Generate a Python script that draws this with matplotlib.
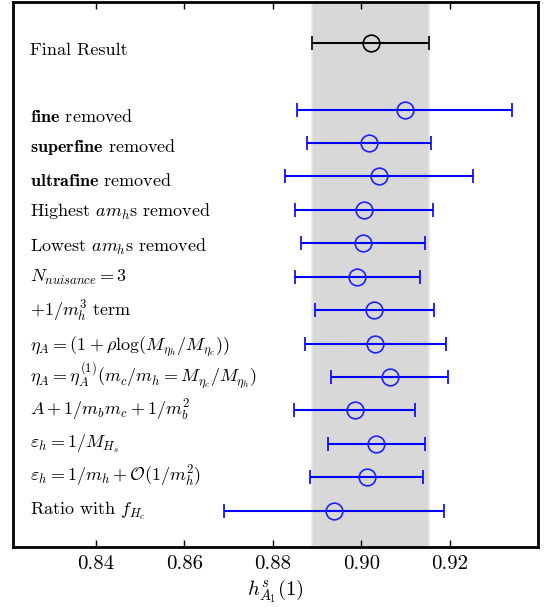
import matplotlib
matplotlib.use("Agg")
import matplotlib.pyplot as plt
import numpy as np

plt.rcParams["font.family"] = "serif"
plt.rcParams["font.serif"] = ["cmr10"]
plt.rcParams["mathtext.fontset"] = "cm"
plt.rcParams["axes.formatter.use_mathtext"] = True

# Final combined result
final_label = "Final Result"
final_value = 0.9021
final_error = 0.0132

# Stability tests of the fit
test_labels = [
    r"$\mathbf{fine}$ removed",
    r"$\mathbf{superfine}$ removed",
    r"$\mathbf{ultrafine}$ removed",
    r"Highest $am_h$s removed",
    r"Lowest $am_h$s removed",
    r"$N_{nuisance}=3$",
    r"$+1/m_h^3$ term",
    r"$\eta_A=(1+\rho\mathrm{log}(M_{\eta_h}/M_{\eta_c}))$",
    r"$\eta_A=\eta_A^{(1)}(m_c/m_h=M_{\eta_c}/M_{\eta_h})$",
    r"$A+1/m_bm_c+1/m_b^2$",
    r"$\varepsilon_h=1/M_{H_s}$",
    r"$\varepsilon_h=1/m_h+\mathcal{O}(1/m_h^2)$",
    r"Ratio with $f_{H_c}$",
]
test_values = [0.9098, 0.9018, 0.9040, 0.9006, 0.9004, 0.8991, 0.9030,
               0.9032, 0.9064, 0.8985, 0.9034, 0.9012, 0.8939]
test_errors = [0.0244, 0.0141, 0.0212, 0.0157, 0.0141, 0.0141, 0.0135,
               0.0160, 0.0132, 0.0137, 0.0110, 0.0128, 0.0249]

tick_values = [0.84, 0.86, 0.88, 0.90, 0.92]
x_label = r"$h^s_{A_1}(1)$"

# baseline shift of each row label below its marker (in row units)
final_text_shift = 0.37
test_text_shift = [0.37, 0.28, 0.28, 0.22, 0.25, 0.17, 0.20,
                   0.20, 0.16, 0.16, 0.12, 0.12, 0.12]

fig = plt.figure(figsize=(5.46, 6.07), dpi=100)
ax = fig.add_axes([13 / 546, 1 - 547 / 607, 525 / 546, 545 / 607])

final_pos = 0
test_pos = np.arange(len(test_values)) + 2

ax.axvspan(final_value - final_error, final_value + final_error,
           facecolor="#d8d8d8", edgecolor="#e6e6e6", lw=1.2, zorder=0)

ax.errorbar([final_value], [final_pos], xerr=[final_error], fmt="o",
            mfc="none", mec="black", ms=12, mew=1.2, color="black",
            ecolor="black", elinewidth=1.5, capsize=5, capthick=1.8, zorder=3)
ax.errorbar(test_values, test_pos, xerr=test_errors, fmt="o",
            mfc="none", mec="#1f1fff", ms=12, mew=1.2, color="blue",
            ecolor="blue", elinewidth=1.5, capsize=5, capthick=1.8, zorder=3)

text_x = 0.8250
ax.text(text_x, final_pos + final_text_shift, final_label, fontsize=13,
        va="baseline", ha="left")
for lab, y, dy in zip(test_labels, test_pos, test_text_shift):
    ax.text(text_x, y + dy, lab, fontsize=13, va="baseline", ha="left")

ax.set_xlim(0.8212, 0.9400)
ax.set_ylim(test_pos[-1] + 1.09, final_pos - 1.22)
ax.set_yticks([])
ax.set_xticks(tick_values)
ax.set_xticklabels([f"{v:.2f}" for v in tick_values])
ax.tick_params(axis="x", direction="in", length=5, width=1, top=True,
               labelsize=15, pad=6)
ax.set_xlabel(x_label, fontsize=15, labelpad=3)
for s in ax.spines.values():
    s.set_linewidth(2)

fig.savefig("out.png", dpi=100)
